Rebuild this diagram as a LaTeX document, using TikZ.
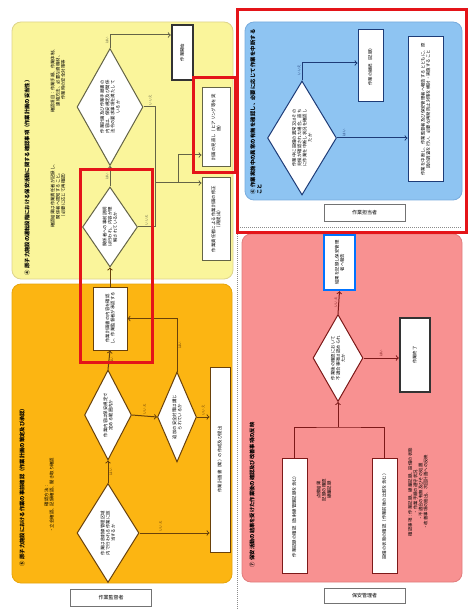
\documentclass[tikz,border=0pt]{standalone}
\usepackage{fontspec}
\setmainfont{Noto Sans CJK JP}
\XeTeXlinebreaklocale "ja"
\XeTeXlinebreakskip=0pt plus 1pt
\usetikzlibrary{arrows, shapes.geometric, positioning}

\definecolor{ylpanel}{RGB}{250,245,155}
\definecolor{yledge}{RGB}{222,212,140}
\definecolor{ylline}{RGB}{100,100,70}
\definecolor{orpanel}{RGB}{252,181,18}
\definecolor{oredge}{RGB}{232,165,10}
\definecolor{orline}{RGB}{105,65,10}
\definecolor{blpanel}{RGB}{142,196,242}
\definecolor{bledge}{RGB}{120,172,222}
\definecolor{blline}{RGB}{30,60,120}
\definecolor{pkpanel}{RGB}{248,145,145}
\definecolor{pkedge}{RGB}{225,125,125}
\definecolor{pkline}{RGB}{125,25,25}
\definecolor{hired}{RGB}{228,20,25}

\newcommand{\vtext}[2]{\rotatebox{90}{\parbox{#1}{\centering\fontsize{4.4}{5.2}\selectfont #2}}}
\newcommand{\vhead}[2]{\rotatebox{90}{\parbox{#1}{\fontsize{5.3}{6.6}\selectfont #2}}}
\newcommand{\ynlab}[1]{\rotatebox{90}{#1}}

\begin{document}
\begin{tikzpicture}[x=1pt, y=-1pt,
    panel/.style={rounded corners=9pt, line width=0.8pt},
    box/.style={rectangle, draw, fill=white, text=black, inner sep=1pt, line width=1pt},
    dec/.style={diamond, draw, fill=white, text=black, inner sep=0pt, shape aspect=0.55, line width=1pt},
    endbox/.style={box, draw=black!80, line width=2.4pt},
    note/.style={inner sep=0pt, text=black},
    heading/.style={inner sep=0pt, text=black, font=\bfseries},
    tag/.style={rectangle, draw=black!55, fill=white, text=black, line width=0.8pt, minimum width=81pt, minimum height=17pt, font=\fontsize{5}{6}\selectfont},
    hilite/.style={draw=hired, line width=3pt},
    flow/.style={->, line width=1pt},
    yn/.style={inner sep=1pt, font=\fontsize{3.5}{4}\selectfont}]
  \useasboundingbox (0,0) rectangle (468,609);
  \fill[white] (0,0) rectangle (468,609);

  % panels
  \draw[panel, fill=ylpanel, draw=yledge] (12,22) rectangle (233,279);
  \draw[panel, fill=orpanel, draw=oredge] (12,284) rectangle (232,583);
  \draw[panel, fill=blpanel, draw=bledge] (245,22) rectangle (462,200);
  \draw[panel, fill=pkpanel, draw=pkedge] (242,234) rectangle (462,582);
  \draw[densely dotted, line width=1pt, black!45] (237,228) -- (237,609);
  \draw[densely dotted, line width=1pt, black!45] (240,228) -- (462,228);

  % (4) yellow
  \begin{scope}[color=ylline]
    \node[heading] (yhead) at (27,155) {\vhead{240pt}{④ 原子力施設の運転段階における保安活動に関する確認事項（作業計画の妥当性）}};
    \node[note] (ynote1) at (58,80) {\vtext{100pt}{確認項目：作業手順、作業体制、\\連絡方法、必要な資機材、\\作業時の安全対策等}};
    \node[note] (ynote2) at (58,195) {\vtext{110pt}{確認結果は作業責任者が記録し、\\関係者へ周知すること。\\（必要に応じて再確認）}};
    \node[dec, minimum width=66pt, minimum height=117pt] (ychk) at (110,107) {\vtext{56pt}{作業計画及び作業手順書の内容は、保安規定及び関係法令の要求事項を満たしているか}};
    \node[dec, minimum width=55pt, minimum height=80pt] (yexp) at (110,227) {\vtext{42pt}{関係者への事前説明は行われ、内容が理解されているか}};
    \node[endbox, minimum width=21pt, minimum height=55pt] (ystart) at (182.5,52.5) {\vtext{45pt}{作業開始}};
    \node[box, minimum width=28pt, minimum height=79pt] (yrev) at (216,127.5) {\vtext{68pt}{計画の見直し（ヒアリング等を実施）}};
    \node[box, minimum width=28pt, minimum height=82pt] (yfix) at (216,219) {\vtext{70pt}{作業責任者による作業計画の修正（再提出）}};
    \coordinate (yjoin) at (155,183);
    \coordinate (ysplit) at (178,183);
    \draw[flow] (ychk.north) |- node[yn, pos=0.3, left] {\ynlab{はい}} ([yshift=17.5pt]ystart.west);
    \draw[flow] (ychk.east) -| node[yn, pos=0.3, above] {\ynlab{いいえ}} (yjoin) -- ([yshift=36pt]yfix.west);
    \draw[flow] (ysplit) |- ([yshift=-27.5pt]yrev.west);
    \draw[line width=1pt] (yexp.east) -| node[yn, pos=0.25, above] {\ynlab{いいえ}} (yjoin);
    \draw[flow] (yexp.north) -- node[yn, midway, left] {\ynlab{はい}} (ychk.south);
  \end{scope}

  % (5) orange
  \begin{scope}[color=orline]
    \node[heading] (ohead) at (22,447) {\vhead{238pt}{⑤ 原子力施設における作業の事前確認（作業計画の策定及び承認）}};
    \node[note] (onote) at (49,495) {\vtext{140pt}{確認方法：\\・立会確認、記録確認、聞き取り確認}};
    \node[box, minimum width=34pt, minimum height=63pt] (oapp) at (110,318.5) {\vtext{54pt}{作業計画書の内容を確認し、作業監督者が承認する}};
    \node[dec, minimum width=47pt, minimum height=90pt] (oscope) at (108,415) {\vtext{48pt}{作業内容は保安規定で定める範囲内か}};
    \node[dec, minimum width=39pt, minimum height=90pt] (oextra) at (177,417) {\vtext{46pt}{追加の安全対策は講じられているか}};
    \node[dec, minimum width=62pt, minimum height=99pt] (ozone) at (108,533) {\vtext{46pt}{作業は放射線管理区域内で行われる作業に該当するか}};
    \node[box, minimum width=20pt, minimum height=185pt] (oplan) at (220,459.5) {\vtext{170pt}{作業計画書（案）の作成及び提出}};
    \draw[flow] (ozone.north) -- node[yn, midway, right] {\ynlab{はい}} (oscope.south);
    \draw[flow] (ozone.east) -- node[yn, pos=0.3, above] {\ynlab{いいえ}} (ozone.east -| oplan.west);
    \draw[flow] (oscope.east) -- node[yn, midway, above] {\ynlab{いいえ}} (oextra.west);
    \draw[flow] (oextra.east) -- node[yn, midway, above] {\ynlab{いいえ}} (oextra.east -| oplan.west);
    \draw[flow] (oextra.north) |- node[yn, pos=0.25, right] {\ynlab{はい}} (oapp.east);
    \draw[flow] (oscope.north) -- node[yn, midway, right] {\ynlab{はい}} (oapp.south);
    \draw[flow] (oapp.north) -- (yexp.south);
  \end{scope}

  % (6) blue
  \begin{scope}[color=blline]
    \node[heading] (bhead) at (256,112) {\vhead{165pt}{⑥ 作業実施中の異常の有無を確認し、必要に応じて作業を中断すること}};
    \node[dec, minimum width=69pt, minimum height=114pt] (bchk) at (302,138) {\vtext{60pt}{作業中に設備の異常又はその兆候が確認された場合、直ちに作業を中断し状況を確認したか}};
    \node[box, minimum width=25pt, minimum height=72pt] (bcont) at (370.5,66) {\vtext{62pt}{作業の継続（記録）}};
    \node[box, minimum width=35pt, minimum height=145pt] (bstop) at (425.5,109.5) {\vtext{132pt}{作業を中断し、作業監督者及び保安管理者へ報告するとともに、原因の調査を行い、必要な再発防止対策を検討・実施すること}};
    \draw[flow] (bchk.north) |- node[yn, pos=0.3, left] {\ynlab{いいえ}} ([yshift=3pt]bcont.west);
    \draw[flow] (bchk.east) -- node[yn, pos=0.1, above] {\ynlab{はい}} (bchk.east -| bstop.west);
    \node[tag] (btag) at (364.5,212.5) {作業担当者};
  \end{scope}

  % (7) pink
  \begin{scope}[color=pkline]
    \node[heading] (phead) at (252,442) {\vhead{250pt}{⑦ 保安活動の結果を受けた作業後の確認及び改善事項の反映}};
    \node[box, draw=blue!55!cyan, line width=2.4pt, minimum width=31pt, minimum height=55pt] (prep) at (339.5,262.5) {\vtext{46pt}{結果を記録し保安管理者へ報告}};
    \node[dec, minimum width=50pt, minimum height=87pt] (pchk) at (338,358) {\vtext{48pt}{作業後の確認において不適合事項は認められたか}};
    \node[endbox, minimum width=30pt, minimum height=74pt] (pend) at (415,355) {\vtext{60pt}{作業終了}};
    \node[box, minimum width=25pt, minimum height=115pt] (precord) at (294.5,515.5) {\vtext{105pt}{作業記録の確認（放射線管理記録を含む）}};
    \node[box, minimum width=25pt, minimum height=115pt] (pstate) at (384.5,515.5) {\vtext{105pt}{設備の状態の確認（作業前後の比較を含む）}};
    \node[note] (pnote1) at (324,490) {\vtext{60pt}{点検結果\\記録の確認\\線量記録}};
    \node[note] (pnote2) at (418,492) {\vtext{165pt}{確認事項：作業記録、線量記録、設備の状態\\・作業手順の遵守状況\\・不適合の有無及びその処置\\・改善事項の抽出、次回計画への反映}};
    \coordinate (pjoin) at (338,427);
    \draw[line width=1pt] (precord.north) |- (pjoin) -| (pstate.north);
    \draw[flow] (pjoin) -- (pchk.south);
    \draw[flow] (pchk.north) -- node[yn, midway, left] {\ynlab{いいえ}} (prep.south);
    \draw[flow] (pchk.east) -- node[yn, midway, above] {\ynlab{はい}} (pchk.east -| pend.west);
    \node[tag, minimum height=15pt] (ptag) at (364.5,596) {保安管理者};
  \end{scope}

  \node[tag] (otag) at (111,598) {作業監督者};

  % highlights
  \draw[hilite] (80,170) rectangle (152,362);
  \draw[hilite] (193,78) rectangle (235,173);
  \draw[hilite] (237.5,9.5) rectangle (466.5,232.5);
\end{tikzpicture}
\end{document}
